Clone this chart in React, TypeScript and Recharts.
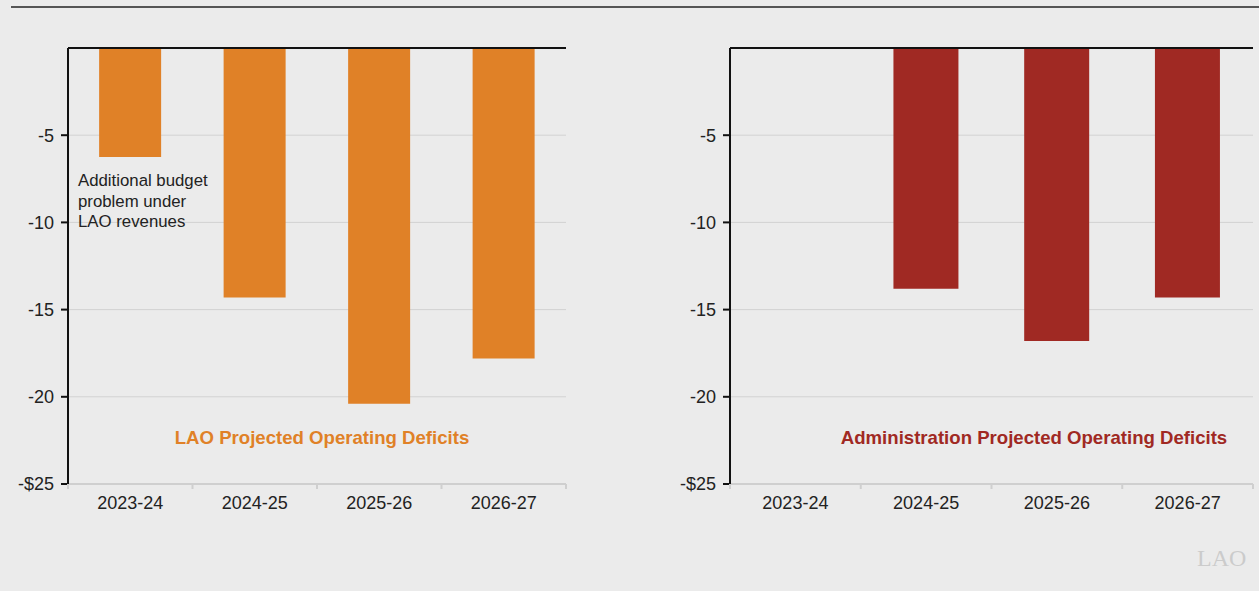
import { Bar, BarChart, CartesianGrid, ReferenceLine, XAxis, YAxis } from 'recharts';

const years = ['2023-24', '2024-25', '2025-26', '2026-27'];
const laoDeficits = [-6.25, -14.3, -20.4, -17.8];
const adminDeficits = [null, -13.8, -16.8, -14.3];
const yTicks = [-25, -20, -15, -10, -5];

const FONT = '"Liberation Sans", Arial, Helvetica, sans-serif';
const ORANGE = '#e08127';
const RED = '#a02923';

const fmtY = (v: number) => (v === -25 ? '-$25' : String(v));

// x tick: label in the band centre, small gray marks on band edges
function YearTick(props: any) {
  const { x, y, payload, index, band, count } = props;
  const left = x - band / 2;
  const right = x + band / 2;
  return (
    <g>
      <line x1={left} x2={left} y1={y} y2={y + 5} stroke="#cfcfcf" strokeWidth={2} />
      {index === count - 1 && <line x1={right} x2={right} y1={y} y2={y + 5} stroke="#cfcfcf" strokeWidth={2} />}
      <text x={x} y={y + 19} dy="0.35em" textAnchor="middle" fill="#222" fontSize={18} fontFamily={FONT}>
        {payload.value}
      </text>
    </g>
  );
}

function DeficitChart({ data, color, marginLeft, marginRight, width }: any) {
  const plotWidth = width - marginLeft - 60 - marginRight;
  const band = plotWidth / years.length;
  return (
    <BarChart
      width={width}
      height={591}
      data={data}
      margin={{ top: 48, left: marginLeft, right: marginRight, bottom: 77 }}
      barCategoryGap="25%"
    >
      <CartesianGrid horizontal vertical={false} stroke="#d2d2d2" />
      <XAxis
        dataKey="year"
        height={30}
        axisLine={{ stroke: '#cfcfcf', strokeWidth: 2 }}
        tickLine={false}
        tickSize={0}
        tickMargin={0}
        interval={0}
        tick={<YearTick band={band} count={years.length} />}
      />
      <YAxis
        width={60}
        domain={[-25, 0]}
        ticks={yTicks}
        tickFormatter={fmtY}
        axisLine={{ stroke: '#111', strokeWidth: 2 }}
        tickLine={{ stroke: '#111', strokeWidth: 2 }}
        tickSize={7}
        tickMargin={7}
        tick={{ fill: '#222', fontSize: 18, fontFamily: FONT }}
      />
      <Bar dataKey="value" fill={color} isAnimationActive={false} />
      <ReferenceLine y={0} stroke="#111" strokeWidth={2} ifOverflow="extendDomain" />
    </BarChart>
  );
}

export default function App() {
  const laoData = years.map((year, i) => ({ year, value: laoDeficits[i] }));
  const adminData = years.map((year, i) => ({ year, value: adminDeficits[i] }));

  return (
    <div
      style={{
        position: 'absolute',
        left: 0,
        top: 0,
        width: 1259,
        height: 591,
        background: '#ebebeb',
        overflow: 'hidden',
        fontFamily: FONT,
      }}
    >
      <div style={{ position: 'absolute', left: 11, right: 0, top: 6, height: 2, background: '#555' }} />

      <div style={{ position: 'absolute', left: 0, top: 0 }}>
        <DeficitChart data={laoData} color={ORANGE} marginLeft={8} marginRight={54} width={620} />
      </div>
      <div style={{ position: 'absolute', left: 640, top: 0 }}>
        <DeficitChart data={adminData} color={RED} marginLeft={30} marginRight={6} width={619} />
      </div>

      <div
        style={{
          position: 'absolute',
          left: 78,
          top: 171,
          fontSize: 16.8,
          lineHeight: '20.5px',
          color: '#222',
        }}
      >
        Additional budget
        <br />
        problem under
        <br />
        LAO revenues
      </div>

      <div
        style={{
          position: 'absolute',
          left: 122,
          width: 400,
          top: 427,
          textAlign: 'center',
          fontSize: 18.6,
          fontWeight: 700,
          color: ORANGE,
          whiteSpace: 'nowrap',
        }}
      >
        LAO Projected Operating Deficits
      </div>
      <div
        style={{
          position: 'absolute',
          left: 784,
          width: 500,
          top: 427,
          textAlign: 'center',
          fontSize: 18.6,
          fontWeight: 700,
          color: RED,
          whiteSpace: 'nowrap',
        }}
      >
        Administration Projected Operating Deficits
      </div>

      <div
        style={{
          position: 'absolute',
          left: 1197,
          top: 545,
          fontFamily: '"Liberation Serif", "DejaVu Serif", serif',
          fontSize: 24,
          color: '#cbcbcb',
        }}
      >
        LAO
      </div>
    </div>
  );
}
